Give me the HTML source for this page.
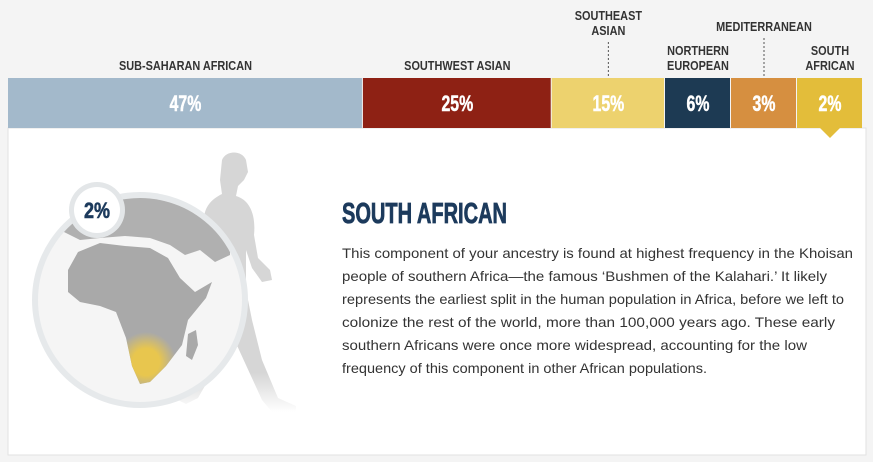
<!DOCTYPE html>
<html><head><meta charset="utf-8"><style>
html,body{margin:0;padding:0;background:#f4f4f4;width:873px;height:462px;overflow:hidden}
svg{display:block}
</style></head><body>
<svg width="873" height="462" viewBox="0 0 873 462">
<defs>
<radialGradient id="yl" cx="0.5" cy="0.5" r="0.5"><stop offset="0.45" stop-color="#e8c64e"/><stop offset="1" stop-color="#e8c64e" stop-opacity="0"/></radialGradient>
<clipPath id="gc"><circle cx="140" cy="300" r="102"/></clipPath>
<clipPath id="af"><path d="M78,252 L100,243 L125,246 L150,248 L168,258 L180,278 L195,292 L212,282 L206,298 L188,320 L182,345 L166,366 L150,382 L140,384 L132,366 L126,338 L116,312 L100,306 L80,302 L68,292 L68,270 Z"/></clipPath>
<linearGradient id="pf" x1="0" y1="0" x2="0" y2="1"><stop offset="0.85" stop-color="#d6d6d6"/><stop offset="1" stop-color="#d6d6d6" stop-opacity="0"/></linearGradient>
</defs>
<rect x="8" y="128" width="858" height="327" fill="#fff" stroke="#e2e2e2"/>
<g id="bars"></g>
<g id="labels" font-family="Liberation Sans, sans-serif" font-weight="bold" font-size="13" fill="#333" text-anchor="middle"></g>
<polygon points="820,128 840,128 830,138" fill="#e3bd3a"/>
<path fill="url(#pf)" d="M222,160 C226,150 242,150 246,160 L248,172 L244,180 L238,186 L236,196 C250,200 256,215 254,235 L258,258 L270,270 L272,280 L262,282 L252,268 L246,250 L246,290 L252,320 L262,360 L278,398 L296,406 L296,412 L272,412 L262,400 L240,352 L230,330 L214,370 L198,398 L186,404 L178,400 L190,380 L204,340 L206,300 L202,260 L204,220 C204,205 214,198 222,194 L220,180 Z"/>
<circle cx="140" cy="300" r="108" fill="#e6e9eb"/>
<circle cx="140" cy="300" r="102" fill="#f5f5f5"/>
<g clip-path="url(#gc)" fill="#a9a9a9">
<path d="M60,190 L230,190 L230,255 L215,262 L200,250 L185,255 L170,245 L150,238 L125,236 L100,238 L80,240 L60,230 Z" fill="#b0b0b0"/>
<path d="M78,252 L100,243 L125,246 L150,248 L168,258 L180,278 L195,292 L212,282 L206,298 L188,320 L182,345 L166,366 L150,382 L140,384 L132,366 L126,338 L116,312 L100,306 L80,302 L68,292 L68,270 Z"/>
<path d="M188,334 L196,330 L198,345 L192,360 L186,356 Z"/>
<g clip-path="url(#af)"><circle cx="146" cy="362" r="30" fill="url(#yl)"/></g>
</g>
<circle cx="97" cy="210" r="28" fill="#e3e6e8"/>
<circle cx="97" cy="210" r="23" fill="#fff"/>
<text x="97" y="218" text-anchor="middle" font-family="Liberation Sans, sans-serif" font-weight="bold" font-size="22" fill="#1c3a5c" stroke="#1c3a5c" stroke-width="0.6" textLength="26" lengthAdjust="spacingAndGlyphs">2%</text>
<text x="342" y="223" font-family="Liberation Sans, sans-serif" font-weight="bold" font-size="29" fill="#1c3a5c" stroke="#1c3a5c" stroke-width="0.8" textLength="165" lengthAdjust="spacingAndGlyphs">SOUTH AFRICAN</text>
<g font-family="Liberation Sans, sans-serif" font-size="14" fill="#333">
<text x="342" y="258" textLength="511" lengthAdjust="spacingAndGlyphs">This component of your ancestry is found at highest frequency in the Khoisan</text>
<text x="342" y="281" textLength="485" lengthAdjust="spacingAndGlyphs">people of southern Africa—the famous ‘Bushmen of the Kalahari.’ It likely</text>
<text x="342" y="304" textLength="502" lengthAdjust="spacingAndGlyphs">represents the earliest split in the human population in Africa, before we left to</text>
<text x="342" y="327" textLength="493" lengthAdjust="spacingAndGlyphs">colonize the rest of the world, more than 100,000 years ago. These early</text>
<text x="342" y="350" textLength="465" lengthAdjust="spacingAndGlyphs">southern Africans were once more widespread, accounting for the low</text>
<text x="342" y="373" textLength="365" lengthAdjust="spacingAndGlyphs">frequency of this component in other African populations.</text>
</g>
</svg>
<script>
const categories=["SUB-SAHARAN AFRICAN","SOUTHWEST ASIAN","SOUTHEAST ASIAN","NORTHERN EUROPEAN","MEDITERRANEAN","SOUTH AFRICAN"];
const values=[47,25,15,6,3,2];
const colors=["#a3b9cb","#8e2114","#edd26e","#1d3a53","#d68f40","#e3bd3a"];
const NS="http://www.w3.org/2000/svg";
const x0=8,total=855,minW=66;
function widths(){const small=values.map(v=>v*7.55<minW);let fixed=0,sum=0;values.forEach((v,i)=>{if(small[i])fixed+=minW;else sum+=v});const k=(total-fixed)/sum;return values.map((v,i)=>small[i]?minW:v*k);}
const ws=widths();
const bars=document.getElementById('bars'),labels=document.getElementById('labels');
let x=x0;
ws.forEach((w,i)=>{
 const r=document.createElementNS(NS,'rect');
 r.setAttribute('x',x);r.setAttribute('y',78);r.setAttribute('width',w-1);r.setAttribute('height',50);r.setAttribute('fill',colors[i]);
 
 
 bars.appendChild(r);
 const t=document.createElementNS(NS,'text');
 t.setAttribute('x',x+w/2);t.setAttribute('y',111);t.setAttribute('text-anchor','middle');t.setAttribute('fill','#fff');
 t.setAttribute('font-family','Liberation Sans, sans-serif');t.setAttribute('font-weight','bold');t.setAttribute('font-size','22');
 t.setAttribute('stroke','#fff');t.setAttribute('stroke-width','0.5');
 t.setAttribute('transform','translate('+(x+w/2)+',0) scale(0.72,1) translate('+(-(x+w/2))+',0)');
 t.textContent=values[i]+'%';
 
 
 bars.appendChild(t);
 const cx=x+w/2;
 let lines, base;
 if(i===2){lines=["SOUTHEAST","ASIAN"];base=20;}
 else if(i===4){lines=["MEDITERRANEAN"];base=31;}
 else if(i===3){lines=["NORTHERN","EUROPEAN"];base=55;}
 else if(i===5){lines=["SOUTH","AFRICAN"];base=55;}
 else{lines=[categories[i]];base=70;}
 lines.forEach((s,j)=>{
  const l=document.createElementNS(NS,'text');
  l.setAttribute('x',cx);l.setAttribute('y',base+j*15);
  l.setAttribute('transform','translate('+cx+',0) scale(0.84,1) translate('+(-cx)+',0)');
  l.textContent=s;
  
  
  labels.appendChild(l);
 });
 if(i===2||i===4){
  const d=document.createElementNS(NS,'line');
  d.setAttribute('x1',cx);d.setAttribute('x2',cx);d.setAttribute('y1',i===2?42:38);d.setAttribute('y2',76);
  d.setAttribute('stroke','#555');d.setAttribute('stroke-dasharray','2,2');
  
  
  labels.appendChild(d);
 }
 x+=w;
});
</script>
</body></html>
